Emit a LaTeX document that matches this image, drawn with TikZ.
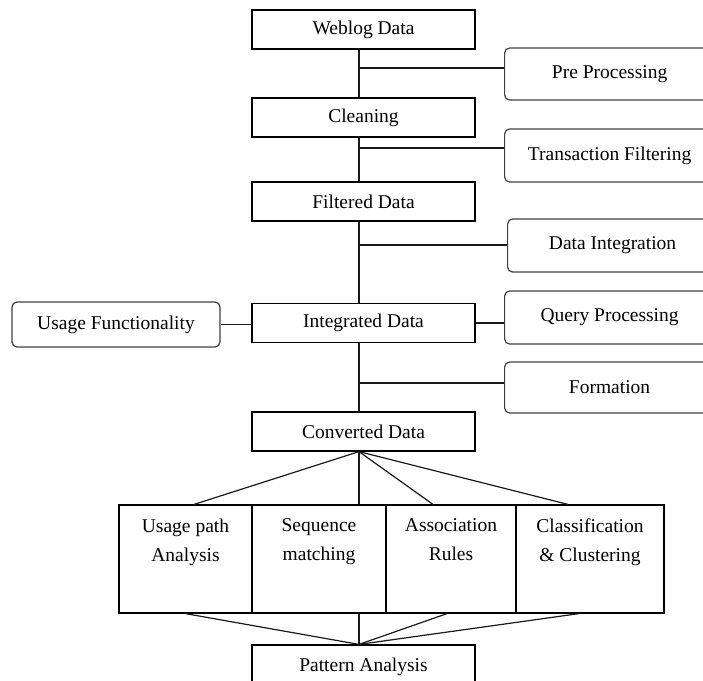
\documentclass[tikz,border=0pt]{standalone}
\usepackage{fontspec}
\setmainfont{Liberation Serif}
\begin{document}
\begin{tikzpicture}[x=1pt,y=-1pt,
  every node/.style={font=\fontsize{19.5}{29}\selectfont},
  box/.style={draw, line width=1.2pt, minimum width=223pt, minimum height=39pt, inner sep=0pt},
  rbox/.style={draw=black!75, line width=1.2pt, rounded corners=5pt, minimum width=210pt, minimum height=52pt, inner sep=0pt, anchor=west},
  rowbox/.style={draw, line width=1.2pt, minimum height=108pt, inner sep=0pt},
  lbl/.style={anchor=north, align=center, inner sep=0pt, yshift=-14pt},
  link/.style={draw=black!90, line width=1.2pt}]
\useasboundingbox (0,0) rectangle (703,680);
\coordinate (ax) at (359,0);
% main column
\node[box] (w) at (363.5,29.5) {Weblog Data};
\node[box] (c) at (363.5,117.5) {Cleaning};
\node[box] (f) at (363.5,201.5) {Filtered Data};
\node[box] (i) at (363.5,323) {Integrated Data};
\node[box] (cd) at (363.5,431.5) {Converted Data};
\node[box, minimum height=44pt] (pa) at (363.5,667) {Pattern Analysis};
% side boxes
\node[rbox] (pre) at (504,74) {Pre Processing};
\node[rbox, minimum height=53pt] (tf) at (504,155.5) {Transaction Filtering};
\node[rbox, minimum height=53pt] (di) at (507,245.5) {Data Integration};
\node[rbox, minimum height=53pt] (qp) at (504,317.5) {Query Processing};
\node[rbox, minimum height=51pt] (fo) at (504,387.5) {Formation};
\node[rbox, minimum width=208pt, minimum height=45pt, anchor=center] (uf) at (116,324.5) {Usage Functionality};
% row of techniques
\node[rowbox, minimum width=133pt] (r1) at (185.5,559) {};
\node[rowbox, minimum width=134pt] (r2) at (319,559) {};
\node[rowbox, minimum width=130pt] (r3) at (451,559) {};
\node[rowbox, minimum width=148pt] (r4) at (590,559) {};
\node[lbl] (t1) at (r1.north) {Usage path\\Analysis};
\node[lbl] (t2) at (r2.north) {Sequence\\matching};
\node[lbl] (t3) at (r3.north) {Association\\Rules};
\node[lbl] (t4) at (r4.north) {Classification\\\&\ Clustering};
% junctions
\coordinate (j1) at (359,68);
\coordinate (j2) at (359,148);
\coordinate (j3) at (359,245);
\coordinate (j5) at (359,383);
% vertical spine
\draw[link] (w.south -| ax) -- (c.north -| ax);
\draw[link] (c.south -| ax) -- (f.north -| ax);
\draw[link] (f.south -| ax) -- (i.north -| ax);
\draw[link] (i.south -| ax) -- (cd.north -| ax);
% branches
\draw[link] (j1) -- (j1 -| pre.west);
\draw[link] (j2) -- (j2 -| tf.west);
\draw[link] (j3) -- (j3 -| di.west);
\draw[link] (j5) -- (j5 -| fo.west);
\draw[link] (i.east) -- (i.east -| qp.west);
\draw[link] (uf.east) -- (uf.east -| i.west);
% fan out
\draw[link] (cd.south -| ax) -- ([xshift=8.5pt]r1.north);
\draw[link] (cd.south -| ax) -- (r2.north -| ax);
\draw[link] (cd.south -| ax) -- ([xshift=-18pt]r3.north);
\draw[link] (cd.south -| ax) -- ([xshift=-22pt]r4.north);
% fan in
\draw[link] (r1.south) -- (pa.north -| ax);
\draw[link] (r2.south -| ax) -- (pa.north -| ax);
\draw[link] ([xshift=-4pt]r3.south) -- (pa.north -| ax);
\draw[link] ([xshift=-11pt]r4.south) -- (pa.north -| ax);
\end{tikzpicture}
\end{document}
